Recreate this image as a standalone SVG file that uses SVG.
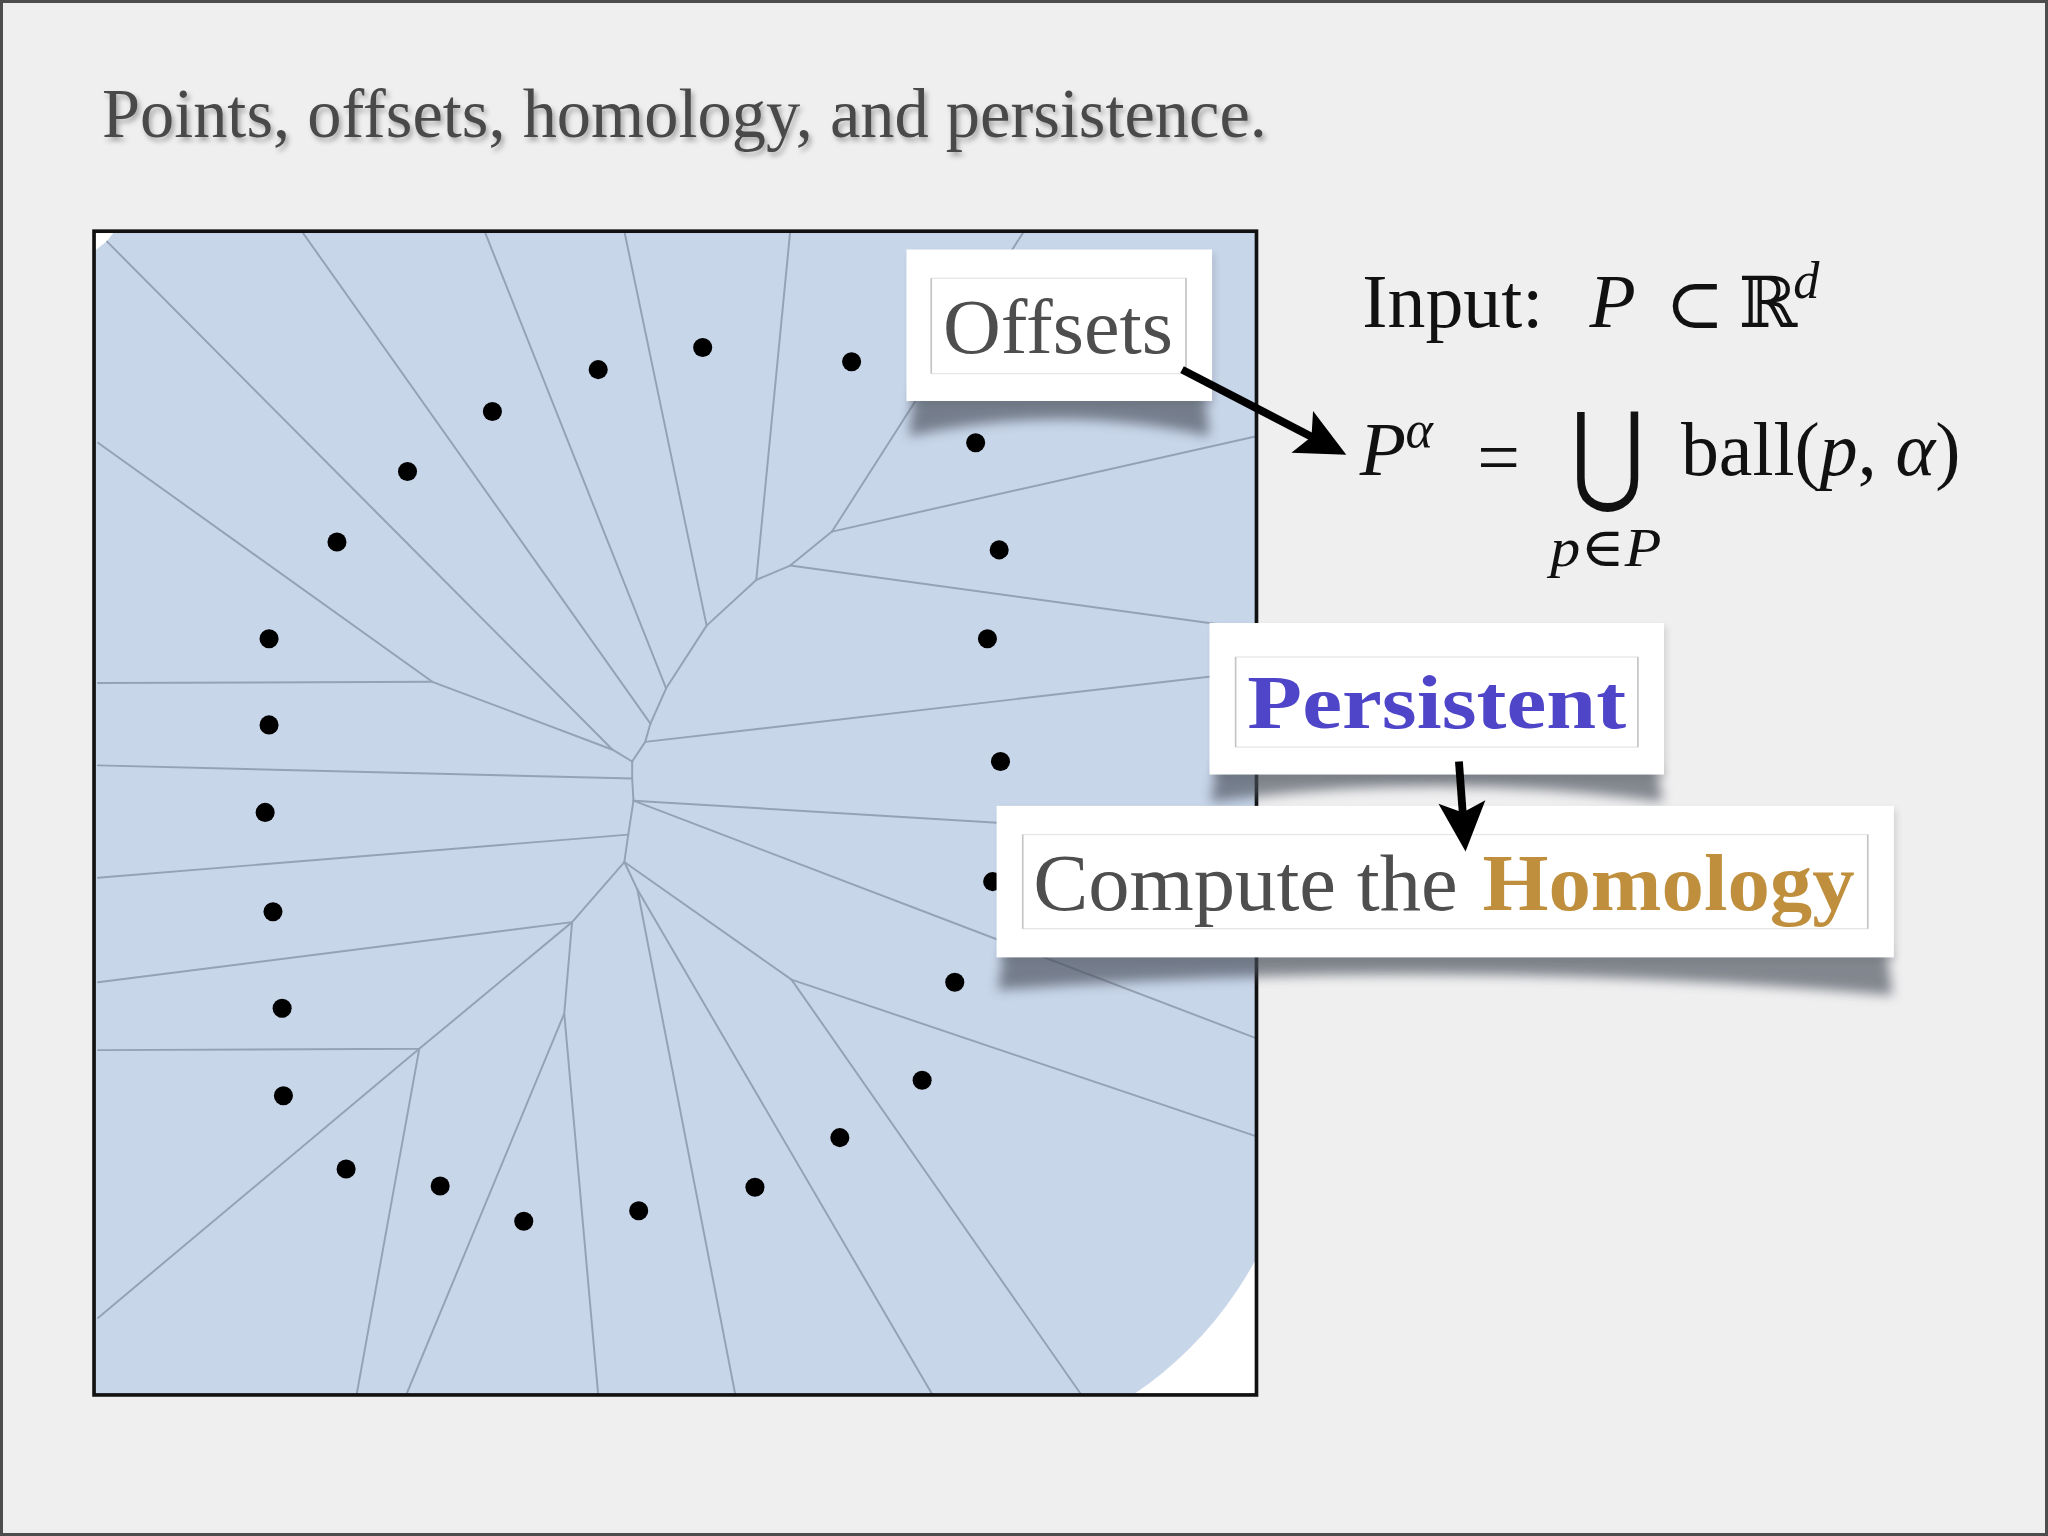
<svg xmlns="http://www.w3.org/2000/svg" width="2048" height="1536" viewBox="0 0 2048 1536">
<defs>
<style>
.vor{stroke:#94a2b6;stroke-width:1.5;fill:none;stroke-linecap:round;stroke-linejoin:round}
.dot{fill:#000}
.ball{fill:#c8d6ea}
.box{fill:#fff}
.boxsh{fill:#000;opacity:0.12}
.curl{fill:#4a4f5a;opacity:0.65}
.inner{fill:none;stroke:#e6e6e6;stroke-width:1}
.innerv{stroke:#c4c4c4;stroke-width:1.2}
.arrow{stroke:#000;stroke-width:6;fill:none;marker-end:url(#ah)}
.serif{font-family:"Liberation Serif","DejaVu Serif",serif}
.title{font-family:"Liberation Serif","DejaVu Serif",serif;font-size:53px;fill:#4a4a4a}
.lbl{font-family:"Liberation Serif","DejaVu Serif",serif;font-size:60px;fill:#4e4e4e}
.math{font-family:"Liberation Serif","DejaVu Serif",serif;fill:#111}
.it{font-style:italic}
.sym{font-family:"DejaVu Serif","Liberation Serif",serif;fill:#111}
</style>
<clipPath id="frameClip"><rect x="72" y="177" width="890" height="891"/></clipPath>
<filter id="blur" x="-20%" y="-100%" width="140%" height="300%"><feGaussianBlur stdDeviation="4.5"/></filter>
<filter id="blur2" x="-10%" y="-20%" width="120%" height="140%"><feGaussianBlur stdDeviation="3"/></filter>
<filter id="tshadow" x="-5%" y="-20%" width="110%" height="160%"><feDropShadow dx="2" dy="3" stdDeviation="2" flood-color="#000" flood-opacity="0.3"/></filter>
<marker id="ah" markerUnits="userSpaceOnUse" viewBox="-20 -20 42 40" refX="0" refY="0" markerWidth="42" markerHeight="40" orient="auto"><path d="M20,0 L-18,-18 L-10,0 L-18,18 Z" fill="#000"/></marker>
</defs>
<rect x="0" y="0" width="2048" height="1536" fill="#efeff0"/>
<g transform="scale(1.306122)">
<text id="title" class="title" x="78" y="105" textLength="892" lengthAdjust="spacingAndGlyphs" filter="url(#tshadow)">Points, offsets, homology, and persistence.</text>

<g id="offset-plot">
<g clip-path="url(#frameClip)">
<rect x="72" y="177" width="890" height="891" fill="#fff"/>
<g class="ball">
<circle cx="458" cy="283" r="290"/><circle cx="538" cy="266" r="290"/><circle cx="652" cy="277" r="290"/>
<circle cx="377" cy="315" r="290"/><circle cx="312" cy="361" r="290"/><circle cx="258" cy="415" r="290"/>
<circle cx="747" cy="339" r="290"/><circle cx="765" cy="421" r="290"/><circle cx="206" cy="489" r="290"/>
<circle cx="756" cy="489" r="290"/><circle cx="206" cy="555" r="290"/><circle cx="766" cy="583" r="290"/>
<circle cx="203" cy="622" r="290"/><circle cx="760" cy="675" r="290"/><circle cx="209" cy="698" r="290"/>
<circle cx="216" cy="772" r="290"/><circle cx="731" cy="752" r="290"/><circle cx="217" cy="839" r="290"/>
<circle cx="706" cy="827" r="290"/><circle cx="265" cy="895" r="290"/><circle cx="643" cy="871" r="290"/>
<circle cx="337" cy="908" r="290"/><circle cx="578" cy="909" r="290"/><circle cx="401" cy="935" r="290"/>
<circle cx="489" cy="927" r="290"/>
</g>
<g class="vor">
<path d="M82,185 L469,574"/>
<path d="M75,339 L331,522 L469,574 L484,583"/>
<path d="M75,523 L331,522"/>
<path d="M484,583 L484,596 L485,613 L481,639 L478,660"/>
<path d="M75,586 L484,596"/>
<path d="M75,672 L481,639"/>
<path d="M637,407 L605,433 L579,444 L541,479 L510,527 L498,554 L494,568 L484,583"/>
<path d="M231,177 L498,554"/>
<path d="M371,177 L510,527"/>
<path d="M478,177 L541,479"/>
<path d="M605,177 L579,444"/>
<path d="M784,177 L637,407"/>
<path d="M637,407 L962,334"/>
<path d="M605,433 L962,482"/>
<path d="M494,568 L962,514"/>
<path d="M485,613 L962,642"/>
<path d="M485,613 L962,795"/>
<path d="M478,660 L606,750 L962,870"/>
<path d="M606,750 L828,1068"/>
<path d="M478,660 L488,681 L714,1068"/>
<path d="M488,681 L563,1068"/>
<path d="M478,660 L438,706 L75,752"/>
<path d="M438,706 L432,776 L458,1068"/>
<path d="M432,776 L311,1068"/>
<path d="M438,706 L321,803 L75,804"/>
<path d="M321,803 L75,1009"/>
<path d="M321,803 L273,1068"/>
</g>
<g class="dot">
<circle cx="458" cy="283" r="7.3"/><circle cx="538" cy="266" r="7.3"/><circle cx="652" cy="277" r="7.3"/>
<circle cx="377" cy="315" r="7.3"/><circle cx="312" cy="361" r="7.3"/><circle cx="258" cy="415" r="7.3"/>
<circle cx="747" cy="339" r="7.3"/><circle cx="765" cy="421" r="7.3"/><circle cx="206" cy="489" r="7.3"/>
<circle cx="756" cy="489" r="7.3"/><circle cx="206" cy="555" r="7.3"/><circle cx="766" cy="583" r="7.3"/>
<circle cx="203" cy="622" r="7.3"/><circle cx="760" cy="675" r="7.3"/><circle cx="209" cy="698" r="7.3"/>
<circle cx="216" cy="772" r="7.3"/><circle cx="731" cy="752" r="7.3"/><circle cx="217" cy="839" r="7.3"/>
<circle cx="706" cy="827" r="7.3"/><circle cx="265" cy="895" r="7.3"/><circle cx="643" cy="871" r="7.3"/>
<circle cx="337" cy="908" r="7.3"/><circle cx="578" cy="909" r="7.3"/><circle cx="401" cy="935" r="7.3"/>
<circle cx="489" cy="927" r="7.3"/>
</g>
</g>
<rect x="72" y="177" width="890" height="891" fill="none" stroke="#111" stroke-width="2.8"/>
</g>

<g id="formula-input">
<text class="math" x="1043" y="250" font-size="58">Input:</text>
<text class="math it" x="1217" y="250" font-size="58">P</text>
<text class="sym" x="1275" y="251" font-size="54">⊂</text>
<text class="sym" x="1331" y="250" font-size="54">ℝ</text>
<text class="math it" x="1373" y="228" font-size="40">d</text>
</g>

<g id="formula-offset">
<text class="math it" x="1041" y="364" font-size="58">P</text>
<text class="math it" x="1076" y="342" font-size="40">α</text>
<text class="math" x="1131" y="370" font-size="58">=</text>
<text class="sym" x="1203" y="376" font-size="84" textLength="56" lengthAdjust="spacingAndGlyphs">⋃</text>
<text class="math" x="1287" y="364" font-size="58">ball(<tspan class="it">p</tspan>, <tspan class="it">α</tspan>)</text>
<text class="math" x="1187" y="433" font-size="42" textLength="85" lengthAdjust="spacingAndGlyphs"><tspan class="it">p</tspan>∈<tspan class="it">P</tspan></text>
</g>

<g id="offsets">
<rect class="boxsh" x="696" y="194" width="234" height="116" filter="url(#blur2)"/>
<path class="curl" d="M700,298 L922,298 L926,334 Q811,308 696,334 Z" filter="url(#blur)"/>
<rect class="box" x="694" y="191" width="234" height="116"/>
<rect class="inner" x="713" y="213" width="195" height="73"/>
<path class="innerv" d="M713,213 V286 M908,213 V286"/>
<text class="lbl" x="722" y="270" textLength="176" lengthAdjust="spacingAndGlyphs">Offsets</text>
</g>

<g id="persistent">
<rect class="boxsh" x="928" y="480" width="348" height="116" filter="url(#blur2)"/>
<path class="curl" d="M932,585 L1268,585 L1273,614 Q1100,590 927,614 Z" filter="url(#blur)"/>
<rect class="box" x="926" y="477" width="348" height="116"/>
<rect class="inner" x="946" y="503" width="308" height="69"/>
<path class="innerv" d="M946,503 V572 M1254,503 V572"/>
<text class="serif" x="955" y="557" font-size="58" font-weight="bold" fill="#4f45c9" textLength="290" lengthAdjust="spacingAndGlyphs">Persistent</text>
</g>

<g id="compute">
<rect class="boxsh" x="765" y="620" width="687" height="116" filter="url(#blur2)"/>
<path class="curl" d="M769,725 L1444,725 L1449,762 Q1106,732 764,758 Z" filter="url(#blur)"/>
<rect class="box" x="763" y="617" width="687" height="116"/>
<rect class="inner" x="783" y="639" width="647" height="72"/>
<path class="innerv" d="M783,639 V711 M1430,639 V711"/>
<text class="serif" x="791" y="697" font-size="62" fill="#4e4e4e" textLength="325" lengthAdjust="spacingAndGlyphs">Compute the</text>
<text class="serif" x="1135" y="697" font-size="62" font-weight="bold" fill="#bf8f3d" textLength="285" lengthAdjust="spacingAndGlyphs">Homology</text>
</g>

<g id="connectors">
<path class="arrow" d="M905,283 L1013,339"/>
<path class="arrow" d="M1117,583 L1120.6,632"/>
</g>
</g>
<rect x="1.5" y="1.5" width="2045" height="1533" fill="none" stroke="#4d4d4d" stroke-width="3"/>
</svg>
